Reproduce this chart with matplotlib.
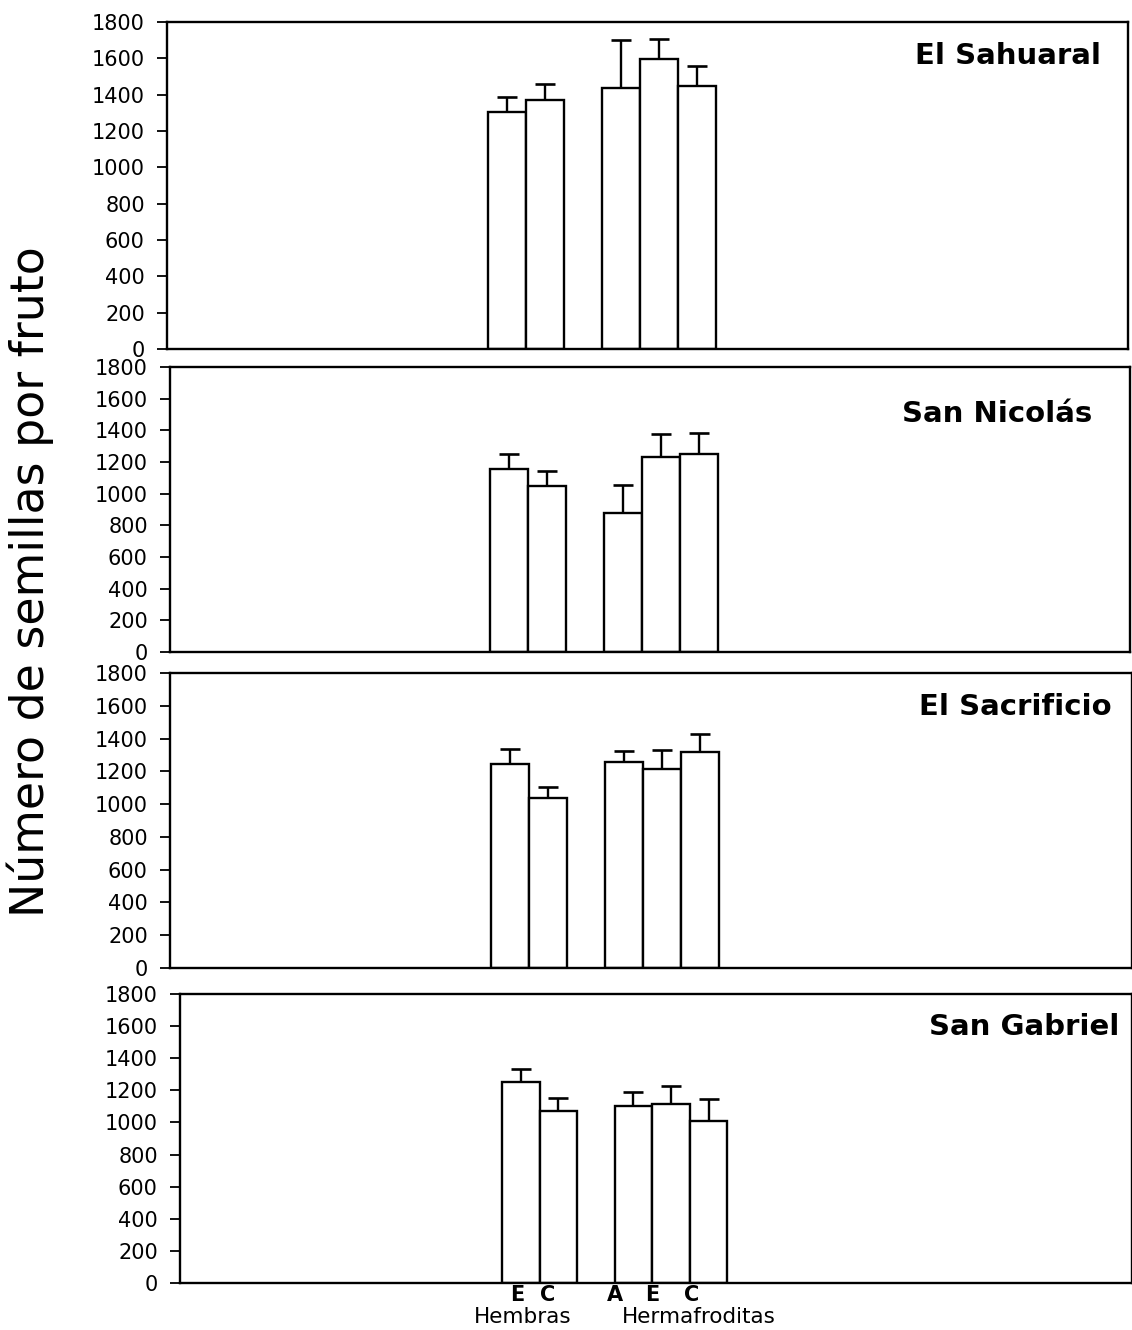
import matplotlib
matplotlib.use("Agg")
import matplotlib.pyplot as plt
import numpy as np

plt.rcParams['font.family'] = ['DejaVu Sans']

# ---- data ----
sites = ['El Sahuaral', 'San Nicolás', 'El Sacrificio', 'San Gabriel']
bar_labels = ['E', 'C', 'A', 'E', 'C']
group_labels = ['Hembras', 'Hermafroditas']

sahuaral_mean = [1304, 1370, 1438, 1594, 1449]
sahuaral_err = [85, 88, 263, 112, 110]
nicolas_mean = [1156, 1049, 880, 1234, 1249]
nicolas_err = [93, 94, 175, 141, 132]
sacrificio_mean = [1247, 1035, 1255, 1214, 1320]
sacrificio_err = [87, 71, 71, 116, 108]
gabriel_mean = [1250, 1073, 1102, 1115, 1011]
gabriel_err = [83, 79, 89, 114, 135]

y_ticks = [0, 200, 400, 600, 800, 1000, 1200, 1400, 1600, 1800]

means = [sahuaral_mean, nicolas_mean, sacrificio_mean, gabriel_mean]
errs = [sahuaral_err, nicolas_err, sacrificio_err, gabriel_err]

# ---- layout (pixels) ----
W, H = 1132, 1330
fig = plt.figure(figsize=(W / 100, H / 100), dpi=100)

panel_px = [  # left, right, top, bottom
    (167, 1128, 22, 349),
    (170, 1130, 367, 652),
    (170, 1132, 673, 968),
    (180, 1132, 994, 1283),
]
xlims = [(-8.95, 16.35), (-8.92, 16.34), (-8.95, 16.37), (-9.09, 16.29)]
title_off = [(27, 34), (38, 47), (20, 34), (13, 33)]

positions = [0, 1, 3, 4, 5]
label_offsets = [-0.1, -0.3, -0.5, -0.5, -0.45]

for i, (L, R, T, B) in enumerate(panel_px):
    ax = fig.add_axes([L / W, 1 - B / H, (R - L) / W, (B - T) / H])
    ax.bar(positions, means[i], width=1.0, color='white', edgecolor='black',
           linewidth=1.7, zorder=2)
    ax.errorbar(positions, means[i], yerr=[np.zeros(len(errs[i])), errs[i]],
                fmt='none', ecolor='black', elinewidth=1.7, capsize=7,
                capthick=1.9, zorder=1)
    ax.set_xlim(*xlims[i])
    ax.set_ylim(0, 1800)
    ax.set_yticks(y_ticks)
    ax.set_yticklabels([str(v) for v in y_ticks], fontsize=15)
    ax.tick_params(axis='y', direction='out', length=7, width=1.3, pad=9)
    ax.set_xticks([])
    for sp in ax.spines.values():
        sp.set_linewidth(1.7)
    ax.annotate(sites[i], xy=(1, 1), xycoords='axes fraction',
                xytext=(-title_off[i][0] * 0.72, -title_off[i][1] * 0.72),
                textcoords='offset points', ha='right', va='center',
                fontsize=21, fontweight='bold')
    if i == len(panel_px) - 1:
        trans = ax.get_xaxis_transform()
        for p, lab, off in zip(positions, bar_labels, label_offsets):
            ax.text(p + off, -0.042, lab, transform=trans, ha='center',
                    va='center', fontsize=15, fontweight='bold')
        ax.text(0.05, -0.118, group_labels[0], transform=trans, ha='center',
                va='center', fontsize=15.5)
        ax.text(4.75, -0.118, group_labels[1], transform=trans, ha='center',
                va='center', fontsize=15.5)

fig.text(30 / W, 1 - 582 / H, 'Número de semillas por fruto', rotation=90,
         ha='center', va='center', fontsize=33)

fig.savefig('out.png', dpi=100, facecolor='white')
